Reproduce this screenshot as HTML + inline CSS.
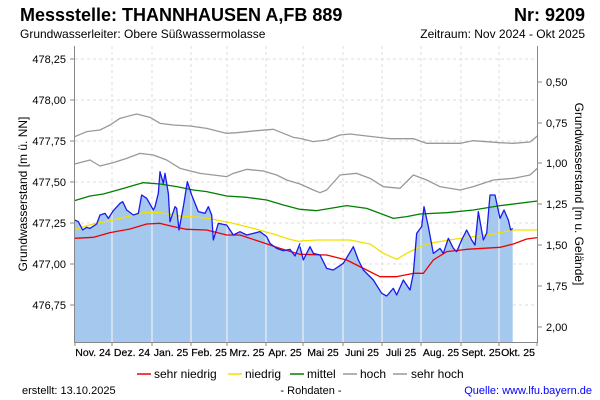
<!DOCTYPE html>
<html><head><meta charset="utf-8"><style>
body{margin:0;background:#fff;}
svg{display:block;font-family:"Liberation Sans",Arial,sans-serif;}
</style></head><body>
<svg width="600" height="400" viewBox="0 0 600 400" xmlns="http://www.w3.org/2000/svg">
<defs>
<clipPath id="c1"><polygon transform="translate(0,40) scale(0.3333333)" points="224,906 224,540 235,545 248,570 260,562 270,565 290,552 300,525 315,520 325,535 340,512 360,490 368,485 380,510 400,525 415,520 425,465 440,475 460,510 465,500 475,460 480,395 490,430 495,400 505,460 510,545 525,500 530,505 537,570 550,500 562,425 575,465 595,515 615,520 625,500 635,525 640,600 655,550 680,555 700,585 720,575 740,585 760,580 780,575 800,590 810,610 830,625 850,632 870,628 885,648 900,610 901,906"/></clipPath>
<clipPath id="c2"><polygon transform="translate(300,40) scale(0.3333333)" points="-1,906 -1,610 0,620 10,660 30,620 40,640 60,645 80,685 100,690 130,670 160,620 175,660 190,690 220,720 245,760 260,768 280,745 290,765 310,720 330,750 340,700 350,580 365,560 372,500 385,560 400,640 420,625 430,640 445,595 460,625 470,635 485,600 500,570 515,600 525,615 535,515 550,600 560,580 570,465 585,465 600,535 612,510 625,540 632,570 638,565 638,906"/></clipPath>
</defs>
<rect width="600" height="400" fill="#fff"/>
<text x="20" y="21" font-size="18" font-weight="bold">Messstelle: THANNHAUSEN A,FB 889</text>
<text x="585" y="21" font-size="18" font-weight="bold" text-anchor="end">Nr: 9209</text>
<text x="20" y="38" font-size="12">Grundwasserleiter:   Obere Süßwassermolasse</text>
<text x="585" y="38" font-size="12" text-anchor="end">Zeitraum: Nov 2024 - Okt 2025</text>

<g stroke="#ddd" stroke-dasharray="3,3" stroke-width="1">
<line x1="75" y1="59" x2="537" y2="59"/><line x1="75" y1="100" x2="537" y2="100"/>
<line x1="75" y1="141" x2="537" y2="141"/><line x1="75" y1="182" x2="537" y2="182"/>
<line x1="75" y1="223" x2="537" y2="223"/><line x1="75" y1="264" x2="537" y2="264"/>
<line x1="75" y1="305" x2="537" y2="305"/>
<line x1="112" y1="46" x2="112" y2="342"/><line x1="152" y1="46" x2="152" y2="342"/>
<line x1="191" y1="46" x2="191" y2="342"/><line x1="227" y1="46" x2="227" y2="342"/>
<line x1="266" y1="46" x2="266" y2="342"/><line x1="303" y1="46" x2="303" y2="342"/>
<line x1="343" y1="46" x2="343" y2="342"/><line x1="382" y1="46" x2="382" y2="342"/>
<line x1="421" y1="46" x2="421" y2="342"/><line x1="461" y1="46" x2="461" y2="342"/>
<line x1="499" y1="46" x2="499" y2="342"/>
</g>

<g clip-path="url(#c1)">
<rect x="0" y="40" width="301" height="310" fill="#a5c8ee"/>
<g stroke="#e8eef5" stroke-width="1.3">
<line x1="112" y1="40" x2="112" y2="342"/><line x1="152" y1="40" x2="152" y2="342"/>
<line x1="191" y1="40" x2="191" y2="342"/><line x1="227" y1="40" x2="227" y2="342"/>
<line x1="266" y1="40" x2="266" y2="342"/>
</g></g>
<g clip-path="url(#c2)">
<rect x="299" y="40" width="240" height="310" fill="#a5c8ee"/>
<g stroke="#e8eef5" stroke-width="1.3">
<line x1="303" y1="40" x2="303" y2="342"/><line x1="343" y1="40" x2="343" y2="342"/>
<line x1="382" y1="40" x2="382" y2="342"/><line x1="421" y1="40" x2="421" y2="342"/>
<line x1="461" y1="40" x2="461" y2="342"/><line x1="499" y1="40" x2="499" y2="342"/>
</g></g>

<g fill="none" stroke-width="1.3" stroke-linejoin="round">
<g transform="translate(0,40) scale(0.3333333)">
<polyline vector-effect="non-scaling-stroke" stroke="#999" points="224,290 260,275 300,270 330,255 360,235 410,222 450,232 480,250 520,255 570,258 620,265 680,280 710,278 740,275 770,272 820,268 850,280 880,292 900,295"/>
<polyline vector-effect="non-scaling-stroke" stroke="#999" points="224,372 270,360 300,378 340,368 380,355 420,340 460,345 500,360 540,385 600,400 640,405 680,410 700,400 740,388 790,393 830,405 860,420 900,432"/>
<polyline vector-effect="non-scaling-stroke" stroke="#008000" points="224,482 270,468 310,462 360,448 430,428 480,432 530,440 580,450 620,455 680,468 740,472 800,480 850,495 900,508"/>
<polyline vector-effect="non-scaling-stroke" stroke="#f2e000" points="224,568 280,552 340,540 390,528 430,518 480,518 540,528 600,532 640,538 700,550 760,565 820,582 870,598 900,605"/>
<polyline vector-effect="non-scaling-stroke" stroke="#f00000" points="224,595 280,592 330,578 390,567 440,552 480,550 520,560 560,568 620,570 680,585 720,585 780,605 840,625 900,643"/>
<polyline vector-effect="non-scaling-stroke" stroke="#1a1aee" points="224,540 235,545 248,570 260,562 270,565 290,552 300,525 315,520 325,535 340,512 360,490 368,485 380,510 400,525 415,520 425,465 440,475 460,510 465,500 475,460 480,395 490,430 495,400 505,460 510,545 525,500 530,505 537,570 550,500 562,425 575,465 595,515 615,520 625,500 635,525 640,600 655,550 680,555 700,585 720,575 740,585 760,580 780,575 800,590 810,610 830,625 850,632 870,628 885,648 900,610"/>
</g>
<g transform="translate(300,40) scale(0.3333333)">
<polyline vector-effect="non-scaling-stroke" stroke="#999" points="0,295 40,305 80,300 120,285 150,282 200,288 270,296 340,296 380,310 420,310 480,310 520,302 560,305 600,308 640,310 690,306 712,288"/>
<polyline vector-effect="non-scaling-stroke" stroke="#999" points="0,432 40,450 60,458 80,450 120,405 170,400 210,415 250,440 300,445 340,405 380,420 420,440 480,450 520,440 580,420 640,415 690,405 712,385"/>
<polyline vector-effect="non-scaling-stroke" stroke="#008000" points="0,508 50,512 140,497 200,505 280,535 320,530 360,522 440,518 520,510 600,497 712,483"/>
<polyline vector-effect="non-scaling-stroke" stroke="#f2e000" points="0,603 50,600 150,600 210,612 250,640 290,658 320,640 360,620 400,608 460,598 520,590 580,582 640,570 712,570"/>
<polyline vector-effect="non-scaling-stroke" stroke="#f00000" points="0,643 80,645 140,660 200,690 240,710 290,710 340,700 370,700 400,660 440,635 500,628 600,622 640,612 680,597 712,593"/>
<polyline vector-effect="non-scaling-stroke" stroke="#1a1aee" points="0,620 10,660 30,620 40,640 60,645 80,685 100,690 130,670 160,620 175,660 190,690 220,720 245,760 260,768 280,745 290,765 310,720 330,750 340,700 350,580 365,560 372,500 385,560 400,640 420,625 430,640 445,595 460,625 470,635 485,600 500,570 515,600 525,615 535,515 550,600 560,580 570,465 585,465 600,535 612,510 625,540 632,570 638,565"/>
</g>
</g>

<g stroke="#888" stroke-width="1" fill="none">
<line x1="74.5" y1="46" x2="74.5" y2="342"/>
<line x1="537.5" y1="46" x2="537.5" y2="342"/>
<line x1="74" y1="342.5" x2="538" y2="342.5"/>
<line x1="70" y1="59" x2="75" y2="59"/><line x1="70" y1="100" x2="75" y2="100"/>
<line x1="70" y1="141" x2="75" y2="141"/><line x1="70" y1="182" x2="75" y2="182"/>
<line x1="70" y1="223" x2="75" y2="223"/><line x1="70" y1="264" x2="75" y2="264"/>
<line x1="70" y1="305" x2="75" y2="305"/>
<line x1="537" y1="82" x2="542" y2="82"/><line x1="537" y1="123" x2="542" y2="123"/>
<line x1="537" y1="163" x2="542" y2="163"/><line x1="537" y1="204" x2="542" y2="204"/>
<line x1="537" y1="245" x2="542" y2="245"/><line x1="537" y1="286" x2="542" y2="286"/>
<line x1="537" y1="327" x2="542" y2="327"/>
<line x1="75" y1="342" x2="75" y2="346"/><line x1="112" y1="342" x2="112" y2="346"/>
<line x1="152" y1="342" x2="152" y2="346"/><line x1="191" y1="342" x2="191" y2="346"/>
<line x1="227" y1="342" x2="227" y2="346"/><line x1="266" y1="342" x2="266" y2="346"/>
<line x1="303" y1="342" x2="303" y2="346"/><line x1="343" y1="342" x2="343" y2="346"/>
<line x1="382" y1="342" x2="382" y2="346"/><line x1="421" y1="342" x2="421" y2="346"/>
<line x1="461" y1="342" x2="461" y2="346"/><line x1="499" y1="342" x2="499" y2="346"/>
<line x1="537" y1="342" x2="537" y2="346"/>
</g>

<g font-size="11" text-anchor="end" fill="#000">
<text x="66" y="63">478,25</text><text x="66" y="104">478,00</text>
<text x="66" y="145">477,75</text><text x="66" y="186">477,50</text>
<text x="66" y="227">477,25</text><text x="66" y="268">477,00</text>
<text x="66" y="309">476,75</text>
</g>
<g font-size="11" fill="#000">
<text x="546" y="86">0,50</text><text x="546" y="127">0,75</text>
<text x="546" y="167">1,00</text><text x="546" y="208">1,25</text>
<text x="546" y="249">1,50</text><text x="546" y="290">1,75</text>
<text x="546" y="331">2,00</text>
</g>
<text transform="translate(27,194) rotate(-90)" font-size="12" text-anchor="middle">Grundwasserstand [m ü. NN]</text>
<text transform="translate(575,194) rotate(90)" font-size="12" text-anchor="middle">Grundwasserstand [m u. Gelände]</text>

<g font-size="10.5" text-anchor="middle" fill="#000" stroke="#000" stroke-width="0.2">
<text x="93" y="356">Nov. 24</text><text x="132" y="356">Dez. 24</text>
<text x="171" y="356">Jan. 25</text><text x="209" y="356">Feb. 25</text>
<text x="247" y="356">Mrz. 25</text><text x="285" y="356">Apr. 25</text>
<text x="323" y="356">Mai 25</text><text x="362" y="356">Juni 25</text>
<text x="401" y="356">Juli 25</text><text x="441" y="356">Aug. 25</text>
<text x="481" y="356">Sept. 25</text><text x="518" y="356">Okt. 25</text>
</g>

<g font-size="12" fill="#000">
<line x1="137" y1="374" x2="151" y2="374" stroke="#f00000" stroke-width="1.5"/>
<text x="154" y="378">sehr niedrig</text>
<line x1="228" y1="374" x2="242" y2="374" stroke="#f2e000" stroke-width="1.5"/>
<text x="245" y="378">niedrig</text>
<line x1="290" y1="374" x2="304" y2="374" stroke="#008000" stroke-width="1.5"/>
<text x="307" y="378">mittel</text>
<line x1="343" y1="374" x2="357" y2="374" stroke="#999" stroke-width="1.5"/>
<text x="360" y="378">hoch</text>
<line x1="393" y1="374" x2="407" y2="374" stroke="#999" stroke-width="1.5"/>
<text x="411" y="378">sehr hoch</text>
</g>
<g font-size="11">
<text x="22" y="394">erstellt:  13.10.2025</text>
<text x="311" y="394" text-anchor="middle">- Rohdaten -</text>
<text x="592" y="394" text-anchor="end" fill="#0000ff">Quelle: www.lfu.bayern.de</text>
</g>
</svg>
</body></html>
